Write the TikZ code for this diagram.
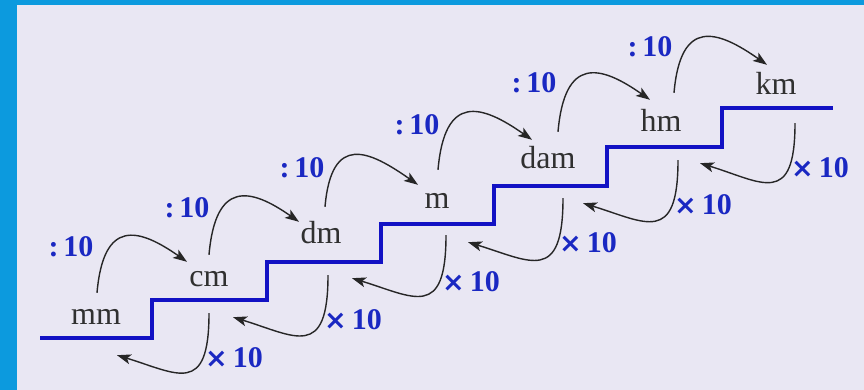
\documentclass[tikz,border=0pt]{standalone}
\usepackage{fontspec}
\setmainfont{Liberation Serif}
\newfontfamily\crossfont{DejaVu Sans}
\usepackage{tikz}
\usetikzlibrary{arrows.meta}
\definecolor{framebg}{HTML}{E9E7F3}
\definecolor{frameblue}{HTML}{0C9ADE}
\definecolor{stairblue}{HTML}{1212C4}
\definecolor{lblblue}{HTML}{1A28C2}
\definecolor{unitgray}{HTML}{303030}
\definecolor{arcgray}{HTML}{262626}
\newcommand{\timesten}{{\crossfont\fontsize{27}{27}\selectfont ×}\,10}
\tikzset{
  unitnode/.style={anchor=base,inner sep=0pt,text height=20pt,text depth=0pt,
    text=unitgray,font=\fontsize{32}{32}\selectfont},
  convlabel/.style={anchor=base,inner sep=0pt,text=lblblue,
    font=\fontsize{30}{30}\selectfont\bfseries},
  stairline/.style={draw=stairblue,line width=3.2pt},
  divarc/.style={->,draw=arcgray,line width=1.4pt,out=85,in=145,
    out looseness=2,in looseness=1.6},
  mularc/.style={->,draw=arcgray,line width=1.4pt,out=-90,in=-17,
    out looseness=2.1,in looseness=1.6},
}

\begin{document}
\begin{tikzpicture}[x=1pt,y=1pt,>={Stealth[length=14pt,width=10pt,inset=3.5pt]}]

% frame
\fill[frameblue] (0,0) rectangle (864,390);
\fill[framebg] (17,0) rectangle (864,385);
\useasboundingbox (0,0) rectangle (864,390);

% staircase
\draw[stairline] (40,52) -| (152,90) -| (267,128) -| (381,166) -| (494,204)
  -| (607,243) -| (722,282) -- (833,282);

% units
\node[unitnode] (mm)  at (96,65)   {mm};
\node[unitnode] (cm)  at (209,103) {cm};
\node[unitnode] (dm)  at (321,146) {dm};
\node[unitnode] (m)   at (437,181) {m};
\node[unitnode] (dam) at (548,221) {dam};
\node[unitnode] (hm)  at (661,258) {hm};
\node[unitnode] (km)  at (776,295) {km};

% going up: divide
\draw[divarc] ([shift={(1,12)}]mm.north)  to ([shift={(-22,5)}]cm.north);
\draw[divarc] ([shift={(0,12)}]cm.north)  to ([shift={(-22,2)}]dm.north);
\draw[divarc] ([shift={(4,17)}]dm.north)  to ([shift={(-19,4)}]m.north);
\draw[divarc] ([shift={(1,19)}]m.north)   to ([shift={(-16,9)}]dam.north);
\draw[divarc] ([shift={(10,17)}]dam.north) to ([shift={(-11,12)}]hm.north);
\draw[divarc] ([shift={(13,19)}]hm.north) to ([shift={(-9,10)}]km.north);

\node[convlabel] (d1) at (71,133)  {:\,10};
\node[convlabel] (d2) at (187,172) {:\,10};
\node[convlabel] (d3) at (302,212) {:\,10};
\node[convlabel] (d4) at (417,255) {:\,10};
\node[convlabel] (d5) at (534,297) {:\,10};
\node[convlabel] (d6) at (650,333) {:\,10};

% going down: multiply
\draw[mularc] ([shift={(0,-26)}]cm.south)  to ([shift={(21,-30)}]mm.south);
\draw[mularc] ([shift={(7,-31)}]dm.south)  to ([shift={(24,-30)}]cm.south);
\draw[mularc] ([shift={(9,-26)}]m.south)   to ([shift={(31,-34)}]dm.south);
\draw[mularc] ([shift={(15,-29)}]dam.south) to ([shift={(31,-33)}]m.south);
\draw[mularc] ([shift={(17,-28)}]hm.south) to ([shift={(35,-34)}]dam.south);
\draw[mularc] ([shift={(19,-28)}]km.south) to ([shift={(39,-31)}]hm.south);

\node[convlabel] (x1) at (234,22)  {\timesten};
\node[convlabel] (x2) at (353,60)  {\timesten};
\node[convlabel] (x3) at (471,98)  {\timesten};
\node[convlabel] (x4) at (588,137) {\timesten};
\node[convlabel] (x5) at (703,175) {\timesten};
\node[convlabel] (x6) at (820,212) {\timesten};

\end{tikzpicture}
\end{document}
